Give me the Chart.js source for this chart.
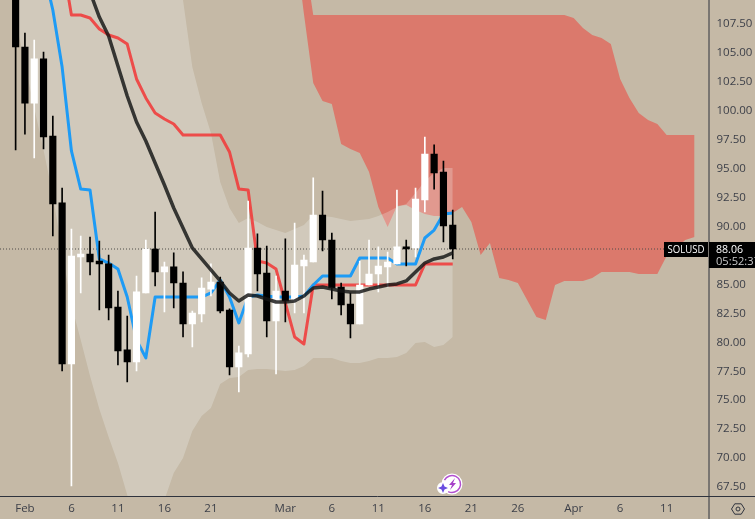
<!DOCTYPE html>
<html>
<head>
<meta charset="utf-8">
<title>SOLUSD</title>
<script src="https://cdn.jsdelivr.net/npm/chart.js@4"></script>
<style>
  html, body { margin: 0; padding: 0; background: #c5b9a6; overflow: hidden; }
  canvas { display: block; }
</style>
</head>
<body>
<canvas id="chart" width="755" height="519"></canvas>
<script>
// day number: 0 is Feb 1, 28 is Mar 1, 59 is Apr 1
const dayTicks = [0, 5, 10, 15, 20, 28, 33, 38, 43, 48, 53, 59, 64, 69]
const dayLabels = ['Feb', '6', '11', '16', '21', 'Mar', '6', '11', '16', '21', '26', 'Apr', '6', '11']
const priceTicks = [107.5, 105, 102.5, 100, 97.5, 95, 92.5, 90, 85, 82.5, 80, 77.5, 75, 72.5, 70, 67.5]

const lastPrice = 88.06
const symbol = 'SOLUSD'
const countdown = '05:52:37'

// candles, first one is day -1
const candleStart = -1
const opens = [111.3, 105.51, 100.67, 104.48, 97.82, 92.04, 78.13, 87.37, 87.63, 87.02, 86.77, 83.05, 79.34, 78.30, 84.26, 88.06,
  86.08, 86.51, 85.12, 81.58, 82.45, 84.60, 85.21, 82.79, 77.87, 78.99, 88.15, 85.99, 81.84, 84.43, 83.57, 86.59, 86.94, 91.00,
  88.84, 84.78, 83.31, 81.58, 84.95, 85.90, 86.51, 86.77, 88.24, 88.15, 92.30, 96.27, 94.71, 90.13]
const highs = [112.0, 106.72, 106.12, 105.08, 99.55, 93.33, 89.79, 89.18, 89.10, 88.75, 87.54, 84.43, 82.27, 85.73, 88.84, 91.26,
  86.94, 87.72, 86.08, 82.70, 85.56, 86.77, 85.64, 82.90, 79.68, 92.21, 89.36, 88.32, 85.73, 88.93, 90.31, 87.54, 94.20, 93.07,
  89.44, 85.12, 84.26, 87.02, 88.84, 88.24, 87.80, 93.16, 88.84, 93.33, 97.74, 97.05, 95.66, 91.43]
const lows = [96.61, 97.99, 95.92, 96.70, 89.18, 77.52, 67.59, 84.26, 85.82, 82.79, 81.93, 78.04, 76.57, 77.52, 84.26, 84.86,
  82.62, 82.96, 80.46, 79.60, 81.76, 84.00, 82.53, 77.18, 75.71, 78.73, 84.43, 80.46, 77.26, 81.76, 82.53, 82.53, 86.94, 87.89,
  83.74, 82.36, 80.37, 81.58, 84.95, 84.35, 84.78, 86.77, 86.59, 87.37, 91.26, 93.24, 88.67, 87.20]
const closes = [105.51, 100.67, 104.48, 97.74, 91.95, 78.13, 87.45, 87.63, 86.94, 86.77, 82.96, 79.25, 78.30, 84.35, 88.06, 86.08,
  86.51, 85.12, 81.58, 82.53, 84.69, 85.21, 82.70, 77.87, 79.08, 88.15, 85.90, 81.84, 84.43, 83.57, 86.68, 87.11, 91.00, 88.84,
  84.69, 83.22, 81.58, 84.95, 85.90, 86.59, 86.94, 88.24, 88.06, 92.38, 96.27, 94.63, 90.05, 88.06]

const blueStart = 2
const blueLine = [112.17, 108.71, 103.78, 96.53, 93.24, 93.16, 87.20, 86.85, 86.33, 83.91, 80.20, 78.65, 83.91, 83.91, 83.91, 83.91,
  83.91, 83.91, 84.26, 85.38, 83.91, 81.67, 83.91, 84.09, 83.99, 83.91, 83.91, 83.91, 83.99, 84.95, 85.73, 85.73, 85.73, 85.73,
  87.28, 87.28, 87.28, 87.28, 86.77, 86.77, 86.77, 89.01, 89.70, 91.09, 91.17]

const redStart = 4
const redLine = [113.03, 108.28, 108.28, 108.02, 107.07, 106.55, 106.29, 105.77, 102.75, 101.11, 99.81, 99.29, 98.86, 97.91, 97.91,
  97.91, 97.91, 97.91, 96.44, 93.25, 93.16, 87.03, 86.85, 86.33, 83.40, 80.46, 79.85, 84.95, 84.95, 84.95, 84.95, 84.95, 84.95,
  84.95, 84.95, 84.95, 84.95, 84.95, 84.95, 86.77, 86.77, 86.77, 86.77]

const blackStart = 7
const blackLine = [110.26, 108.10, 106.46, 103.87, 101.28, 99.03, 97.39, 95.49, 93.59, 91.60, 89.87, 88.15, 87.20, 86.25, 85.30, 84.26,
  83.57, 84.09, 84.00, 83.74, 83.48, 83.48, 83.57, 84.00, 84.69, 84.78, 84.60, 84.43, 84.35, 84.35, 84.60, 84.78, 84.95, 85.04,
  85.30, 86.08, 86.85, 87.20, 87.37, 87.72]

// light band behind the candles, same days as the candles
const bandUpper = [118.2, 118.2, 118.2, 118.2, 118.2, 118.2, 118.2, 118.2, 118.2, 118.2, 118.2, 118.2, 118.2, 118.2, 118.2, 118.2, 118.2,
  114.76, 109.57, 103.78, 100.67, 98.08, 93.85, 91.60, 90.31, 90.74, 90.40, 89.96, 89.70, 89.44, 89.79, 90.13, 91.00, 90.91, 90.83,
  90.65, 90.48, 90.57, 90.65, 90.91, 91.26, 91.69, 91.95, 92.90, 93.94, 94.63, 95.06, 95.06]
const bandLower = [107.85, 104.04, 100.24, 96.61, 92.72, 87.80, 83.22, 80.20, 77.09, 74.24, 71.82, 69.57, 66.81, 63.79, 62.49, 63.79, 66.38,
  68.71, 70.00, 72.34, 73.64, 74.33, 76.40, 76.92, 77.00, 77.61, 77.70, 77.70, 77.61, 77.52, 77.61, 77.95, 78.65, 78.65, 78.65,
  78.39, 78.21, 78.21, 78.39, 78.65, 78.65, 78.73, 79.08, 79.94, 80.03, 79.60, 79.77, 80.46]

// red cloud, runs past the last candle
const cloudStart = 29
const cloudTop = [118.21, 113.63, 108.28, 108.28, 108.28, 108.28, 108.28, 108.28, 108.28, 108.28, 108.28, 108.28, 108.28, 108.28, 108.28,
  108.28, 108.28, 108.28, 108.28, 108.28, 108.28, 108.28, 108.28, 108.28, 108.28, 108.28, 108.28, 108.28, 108.28, 108.28, 108.02,
  107.15, 106.55, 106.29, 105.77, 102.75, 101.11, 99.81, 99.20, 98.86, 97.91, 97.91, 97.91, 97.91]
const cloudBottom = [114.76, 108.36, 102.40, 100.85, 100.59, 97.13, 96.70, 96.36, 94.71, 91.69, 89.96, 91.77, 91.86, 91.43, 91.09, 90.91,
  90.91, 91.17, 91.69, 90.39, 87.54, 88.58, 85.56, 85.38, 85.12, 83.66, 82.19, 81.93, 84.95, 85.30, 85.30, 85.30, 85.56, 86.08,
  86.08, 86.08, 86.08, 85.90, 85.90, 85.90, 87.46, 88.15, 88.84, 89.10]

const priceLineDays = [-3, 69]

function series (start, values) {
  return values.map((v, i) => ({ x: start + i, y: v }))
}

function edge (start, values, color, order, fill) {
  return {
    type: 'line', data: series(start, values), order: order, fill: fill,
    backgroundColor: color, borderWidth: 0, pointRadius: 0, tension: 0
  }
}

function line (start, values, color, width, order) {
  return {
    type: 'line', data: series(start, values), order: order, fill: false,
    borderColor: color, borderWidth: width, pointRadius: 0, tension: 0,
    borderJoinStyle: 'round', borderCapStyle: 'butt'
  }
}

const candleColors = closes.map((c, i) => c >= opens[i] ? '#ffffff' : '#000000')

const bodies = opens.map((o, i) => ({ x: candleStart + i, y: [o, closes[i]] }))
const wicks = lows.map((l, i) => ({ x: candleStart + i, y: [l, highs[i]] }))

// axis lines, last price labels and the two small icons
const overlay = {
  id: 'overlay',
  afterDraw (chart) {
    const ctx = chart.ctx
    const y = chart.scales.y
    const py = y.getPixelForValue(lastPrice)
    const axisX = chart.chartArea.right + 0.5
    const axisY = chart.chartArea.bottom + 0.5

    ctx.save()
    ctx.strokeStyle = '#2f333d'
    ctx.lineWidth = 1
    ctx.beginPath()
    ctx.moveTo(axisX, 0)
    ctx.lineTo(axisX, 519)
    ctx.moveTo(0, axisY)
    ctx.lineTo(755, axisY)
    ctx.stroke()

    ctx.fillStyle = '#000000'
    ctx.fillRect(664, Math.round(py) - 7, 44, 15)
    ctx.fillRect(709, Math.round(py) - 7, 46, 26)
    ctx.font = '11.5px "Open Sans"'
    ctx.textBaseline = 'middle'
    ctx.textAlign = 'left'
    ctx.fillStyle = '#ffffff'
    ctx.fillText(symbol, 667.5, py + 0.5, 37)
    ctx.fillText(lastPrice.toFixed(2), 716, py + 0.5, 27)
    ctx.fillStyle = '#c9c9c9'
    ctx.fillText(countdown, 716, py + 13, 44)

    // settings hexagon
    ctx.strokeStyle = '#2f333d'
    ctx.beginPath()
    for (let i = 0; i < 6; i++) {
      const a = i * Math.PI / 3
      const hx = 738 + 6.5 * Math.cos(a)
      const hy = 509 + 6 * Math.sin(a)
      if (i === 0) ctx.moveTo(hx, hy)
      else ctx.lineTo(hx, hy)
    }
    ctx.closePath()
    ctx.stroke()
    ctx.beginPath()
    ctx.arc(738, 509, 2, 0, Math.PI * 2)
    ctx.stroke()

    // badge
    ctx.fillStyle = '#ffffff'
    ctx.beginPath()
    ctx.arc(452, 484, 10.5, 0, Math.PI * 2)
    ctx.arc(443, 488, 6, 0, Math.PI * 2)
    ctx.fill()
    ctx.strokeStyle = '#b24fd0'
    ctx.lineWidth = 1.5
    ctx.beginPath()
    ctx.arc(452, 484, 8.5, -Math.PI * 0.85, Math.PI * 0.65)
    ctx.stroke()
    ctx.fillStyle = '#a640c8'
    ctx.beginPath()
    ctx.moveTo(455, 478)
    ctx.lineTo(449, 485)
    ctx.lineTo(452, 485)
    ctx.lineTo(450, 490)
    ctx.lineTo(456, 483)
    ctx.lineTo(453, 483)
    ctx.closePath()
    ctx.fill()
    ctx.fillStyle = '#6a4de0'
    ctx.beginPath()
    ctx.moveTo(443, 483)
    ctx.lineTo(444.5, 486.5)
    ctx.lineTo(448, 488)
    ctx.lineTo(444.5, 489.5)
    ctx.lineTo(443, 493)
    ctx.lineTo(441.5, 489.5)
    ctx.lineTo(438, 488)
    ctx.lineTo(441.5, 486.5)
    ctx.closePath()
    ctx.fill()
    ctx.restore()
  }
}

new Chart(document.getElementById('chart'), {
  type: 'bar',
  plugins: [overlay],
  data: {
    datasets: [
      edge(cloudStart, cloudTop, '#db796c', 10, '+1'),
      edge(cloudStart, cloudBottom, '#db796c', 9, false),
      edge(candleStart, bandUpper, 'rgba(245,255,255,0.24)', 8, '+1'),
      edge(candleStart, bandLower, 'rgba(245,255,255,0.24)', 7, false),
      {
        type: 'line', order: 6, fill: false, pointRadius: 0,
        data: priceLineDays.map(d => ({ x: d, y: lastPrice })),
        borderColor: '#4d4a48', borderWidth: 1, borderDash: [1, 2]
      },
      line(redStart, redLine, 'rgba(242,54,54,0.85)', 3, 5),
      line(blueStart, blueLine, '#1e9bf5', 3, 4),
      { type: 'bar', order: 3, data: wicks, backgroundColor: candleColors, barThickness: 1, borderWidth: 0, borderSkipped: false, grouped: false },
      { type: 'bar', order: 2, data: bodies, backgroundColor: candleColors, barThickness: 6.5, borderWidth: 0, borderSkipped: false, grouped: false },
      line(blackStart, blackLine, 'rgba(20,20,20,0.82)', 3.5, 1)
    ]
  },
  options: {
    responsive: false,
    animation: false,
    layout: { padding: 0 },
    plugins: { legend: { display: false }, tooltip: { enabled: false } },
    scales: {
      x: {
        type: 'linear',
        offset: false,
        min: -2.68,
        max: 73.5,
        grid: { display: false, drawTicks: false },
        border: { display: false },
        afterFit (scale) {
          scale.height = 23
          scale.paddingLeft = 0
          scale.paddingRight = 0
        },
        afterBuildTicks (scale) { scale.ticks = dayTicks.map(v => ({ value: v })) },
        ticks: {
          autoSkip: false,
          maxRotation: 0,
          padding: 6,
          color: '#3c3f48',
          font: { family: '"Open Sans"', size: 11.5 },
          callback: v => dayLabels[dayTicks.indexOf(v)]
        }
      },
      y: {
        position: 'right',
        min: 66.72,
        max: 109.573,
        grid: { display: false, drawTicks: false },
        border: { display: false },
        afterFit (scale) {
          scale.width = 46.5
          scale.paddingTop = 0
          scale.paddingBottom = 0
        },
        afterBuildTicks (scale) { scale.ticks = priceTicks.map(v => ({ value: v })) },
        ticks: {
          autoSkip: false,
          padding: 8,
          crossAlign: 'near',
          color: '#3c3f48',
          font: { family: '"Open Sans"', size: 11.5 },
          callback: v => v.toFixed(2)
        }
      }
    }
  }
})
</script>
</body>
</html>
